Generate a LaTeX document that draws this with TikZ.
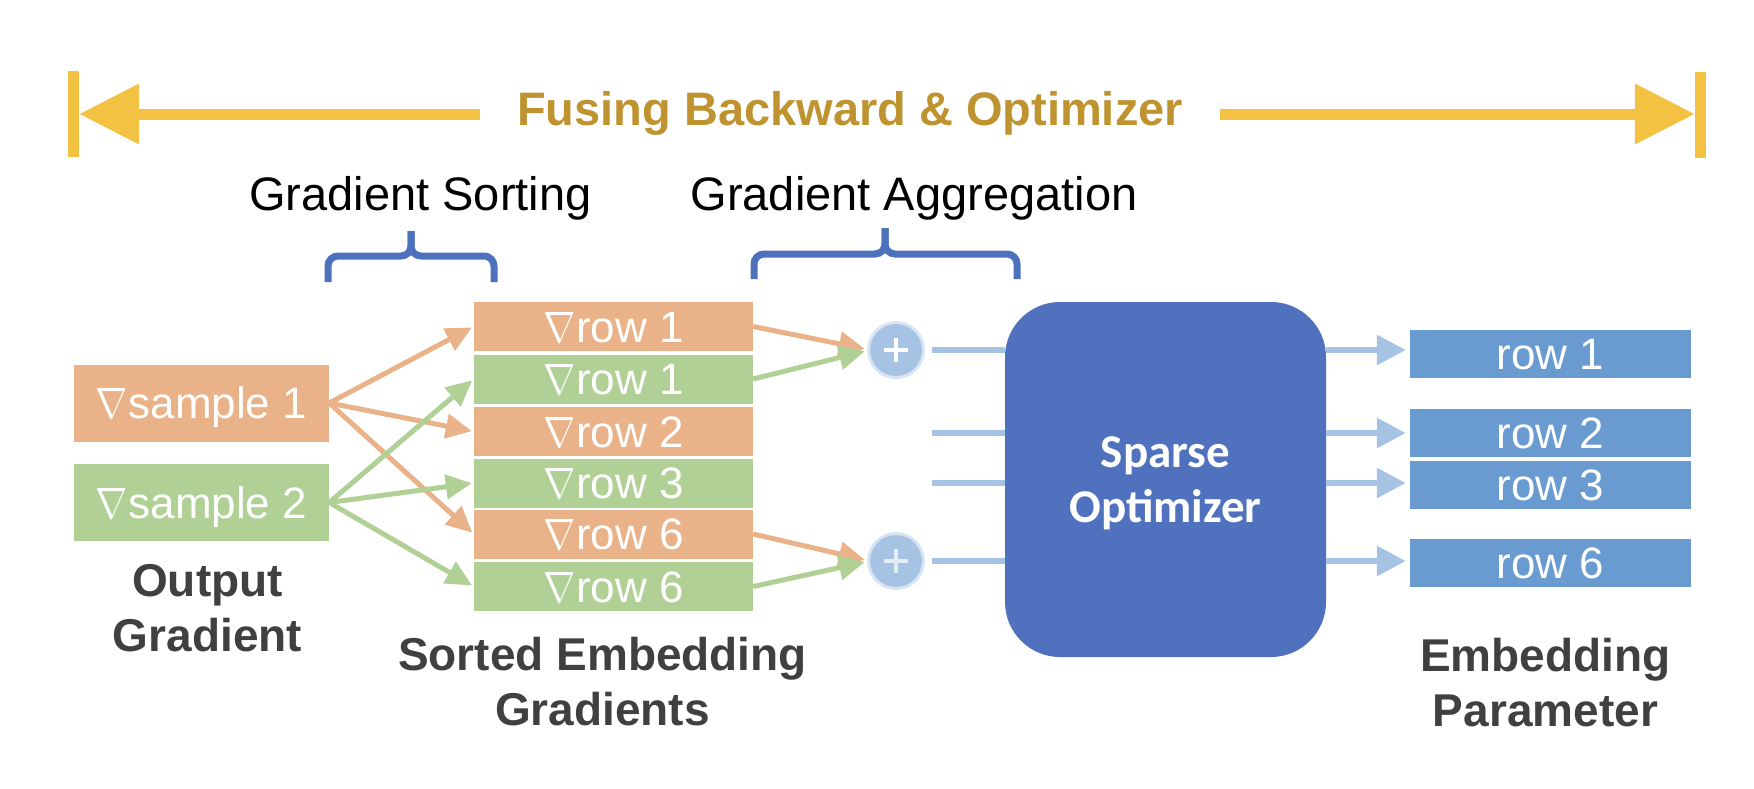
\documentclass[tikz,border=0pt]{standalone}
\usepackage{graphicx}
\usepackage{fontspec}
\setmainfont{Liberation Sans}
\newfontfamily\calb{Carlito}
\DeclareFontShape{OMS}{cmsy}{m}{n}{<->cmsy10}{}
\usetikzlibrary{arrows.meta}
\definecolor{oFill}{RGB}{233,178,137}
\definecolor{gFill}{RGB}{177,208,150}
\definecolor{optC}{RGB}{80,113,189}
\definecolor{bFill}{RGB}{106,155,208}
\definecolor{lBlue}{RGB}{166,195,227}
\definecolor{yArr}{RGB}{244,194,66}
\definecolor{goldT}{RGB}{191,148,48}
\definecolor{braceC}{RGB}{78,113,190}
\definecolor{grayT}{RGB}{64,64,64}
\newcommand{\nab}{\scalebox{0.88}[1]{$\nabla$}\kern0.5pt}
\tikzset{
  boxbase/.style={rectangle, inner sep=0pt, text=white, font=\fontsize{44}{53}\selectfont, text height=31.5pt, text depth=0pt},
  sbox/.style={boxbase, minimum width=255pt, minimum height=77pt},
  rbox/.style={boxbase, minimum width=279pt, minimum height=49pt},
  pbox/.style={boxbase, fill=bFill, minimum width=281pt, minimum height=48pt},
  sarrow/.style={line width=5pt, -{Triangle[length=26pt,width=24pt]}},
  lbline/.style={lBlue, line width=6pt},
  lbarrow/.style={lBlue, line width=6pt, -{Triangle[length=29pt,width=29pt]}, shorten >=4pt},
  yarrow/.style={yArr, line width=11pt, -{Triangle[length=60pt,width=58pt]}},
  ybar/.style={rectangle, fill=yArr, minimum width=11pt, minimum height=86pt, inner sep=0pt},
  bracepath/.style={braceC, line width=7pt, rounded corners=10pt},
  plusc/.style={circle, fill=lBlue, minimum size=52pt, inner sep=0pt},
  blabel/.style={font=\bfseries\fontsize{46}{55}\selectfont, text=grayT, align=center, inner sep=0pt, text depth=0pt, anchor=south},
  plabel/.style={font=\fontsize{47}{56}\selectfont, text=black, inner sep=0pt, anchor=base}
}
\begin{document}
\begin{tikzpicture}[x=1pt,y=-1pt]
\useasboundingbox (0,0) rectangle (1754,788);

% title arrow
\node[font=\bfseries\fontsize{47}{56}\selectfont, text=goldT, inner xsep=37pt, inner ysep=0pt, text depth=0pt, anchor=south] (ttl) at (850,126) {Fusing Backward \& Optimizer};
\node[ybar] (lbar) at (73.5,114) {};
\node[ybar] (rbar) at (1700.5,115) {};
\draw[yarrow] (ttl.west |- lbar) -- (lbar.east);
\draw[yarrow] (ttl.east |- lbar) -- (rbar.west |- lbar);

% phase labels and braces
\node[plabel] (gsort) at (420.5,210) {Gradient Sorting};
\node[plabel] (gagg) at (914,210) {Gradient Aggregation};
\draw[bracepath] (328,282) -- (328,256) -- (411,256) -- (411,231);
\draw[bracepath] (494,282) -- (494,256) -- (411,256) -- (411,231);
\draw[bracepath] (754,279) -- (754,254) -- (885,254) -- (885,228);
\draw[bracepath] (1017,279) -- (1017,254) -- (885,254) -- (885,228);

% output gradients
\node[sbox, fill=oFill] (s1) at (201.5,403) {\nab sample 1};
\node[sbox, fill=gFill] (s2) at (201.5,502.5) {\nab sample 2};

% sorted gradients
\node[rbox, fill=oFill] (r1o) at (613.5,326.5) {\nab row 1};
\node[rbox, fill=gFill] (r1g) at (613.5,379) {\nab row 1};
\node[rbox, fill=oFill] (r2o) at (613.5,431.5) {\nab row 2};
\node[rbox, fill=gFill] (r3g) at (613.5,483) {\nab row 3};
\node[rbox, fill=oFill] (r6o) at (613.5,534) {\nab row 6};
\node[rbox, fill=gFill] (r6g) at (613.5,586.5) {\nab row 6};

\draw[sarrow, oFill, shorten >=2pt] (s1.east) -- (r1o.west);
\draw[sarrow, oFill, shorten >=2pt] (s1.east) -- (r2o.west);
\draw[sarrow, oFill, shorten >=2pt] (s1.east) -- (r6o.west);
\draw[sarrow, gFill, shorten >=2pt] (s2.east) -- (r1g.west);
\draw[sarrow, gFill, shorten >=2pt] (s2.east) -- (r3g.west);
\draw[sarrow, gFill, shorten >=2pt] (s2.east) -- (r6g.west);

% aggregation
\node[plusc] (p1) at (896,350) {};
\node[plusc] (p2) at (896,561) {};
\draw[lBlue, opacity=0.45, line width=3pt] (p1) circle[radius=27.5pt];
\draw[lBlue, opacity=0.45, line width=3pt] (p2) circle[radius=27.5pt];
\draw[white, line width=3.5pt] ([xshift=-12pt]p1.center) -- ([xshift=12pt]p1.center) ([yshift=-12pt]p1.center) -- ([yshift=12pt]p1.center);
\draw[white, opacity=0.7, line width=3.5pt] ([xshift=-12pt]p2.center) -- ([xshift=12pt]p2.center) ([yshift=-12pt]p2.center) -- ([yshift=12pt]p2.center);

\draw[sarrow, oFill, shorten >=5pt] (r1o.east) -- (p1.west);
\draw[sarrow, gFill, shorten >=5pt] (r1g.east) -- (p1.west);
\draw[sarrow, oFill, shorten >=5pt] (r6o.east) -- (p2.west);
\draw[sarrow, gFill, shorten >=5pt] (r6g.east) -- (p2.west);

% optimizer
\node[rectangle, rounded corners=55pt, fill=optC, minimum width=321pt, minimum height=355pt, inner sep=0pt, text=white, align=center, font=\calb\bfseries\fontsize{47}{55}\selectfont, text depth=0pt] (opt) at (1165.5,479.5) {Sparse\\Optimizer};

\coordinate (c2) at (932,433);
\coordinate (c3) at (932,483);

% embedding parameter rows
\node[pbox] (b1) at (1550.5,354) {row 1};
\node[pbox] (b2) at (1550.5,432.5) {row 2};
\node[pbox] (b3) at (1550.5,484.5) {row 3};
\node[pbox] (b6) at (1550.5,563) {row 6};

\draw[lbline, shorten <=10pt] (p1) -- (p1 -| opt.west);
\draw[lbline] (c2) -- (c2 -| opt.west);
\draw[lbline] (c3) -- (c3 -| opt.west);
\draw[lbline, shorten <=10pt] (p2) -- (p2 -| opt.west);

\draw[lbarrow] (p1 -| opt.east) -- (p1 -| b1.west);
\draw[lbarrow] (c2 -| opt.east) -- (c2 -| b2.west);
\draw[lbarrow] (c3 -| opt.east) -- (c3 -| b3.west);
\draw[lbarrow] (p2 -| opt.east) -- (p2 -| b6.west);

% bottom labels
\node[blabel] (lout) at (207.5,652) {Output\\Gradient};
\node[blabel] (lsort) at (602.5,726) {Sorted Embedding\\Gradients};
\node[blabel] (lemb) at (1545.5,727) {Embedding\\Parameter};
\end{tikzpicture}
\end{document}
